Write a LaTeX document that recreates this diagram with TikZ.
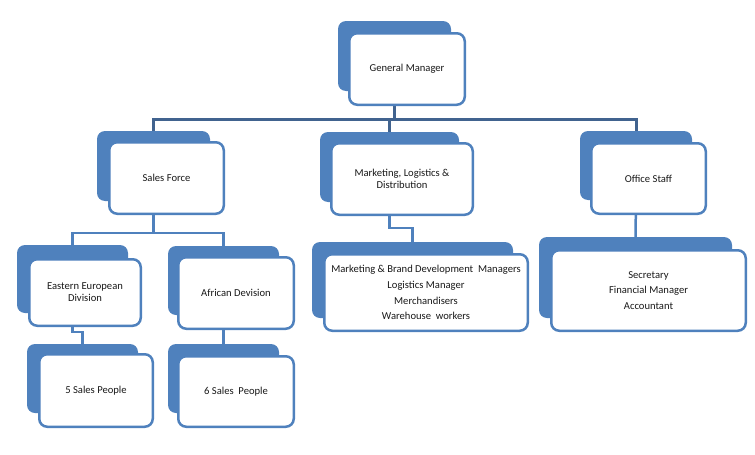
\documentclass[tikz,border=0pt]{standalone}
\usepackage{fontspec}
\setmainfont{Carlito}
\usepackage{tikz}
\usetikzlibrary{backgrounds}
\definecolor{orgblue}{HTML}{4F81BD}
\definecolor{orgdark}{HTML}{41638F}
\tikzset{
 org back/.style={rectangle,rounded corners=8pt,fill=orgblue,inner sep=0pt},
 org front/.style={rectangle,rounded corners=8pt,draw=orgblue,line width=2.5pt,
                   fill=white,inner sep=2pt,align=center,text=black!90,
                   font=\fontsize{10.6}{12}\selectfont},
 org list/.style={font=\fontsize{10.6}{15.8}\selectfont},
 org bar/.style={draw=orgdark,line width=3pt},
 org link/.style={draw=orgblue,line width=2.5pt}
}
\begin{document}
\begin{tikzpicture}[x=1pt,y=-1pt]
 \useasboundingbox (0,0) rectangle (755,455);
 \coordinate (bar) at (394,119);

 \node[org back,minimum width=113,minimum height=70] (gmback) at (394.5,56) {};
 \node[org front,minimum width=115.5,minimum height=71.5] (gm) at (407,69) {General Manager};

 \node[org back,minimum width=113,minimum height=70] (salesback) at (153.5,166) {};
 \node[org front,minimum width=114.5,minimum height=71.5] (sales) at (166.5,178) {Sales Force};
 \node[org back,minimum width=139,minimum height=70] (mktback) at (389.5,167) {};
 \node[org front,minimum width=141.5,minimum height=71.5] (mkt) at (402,179) {Marketing, Logistics \&\\Distribution};
 \node[org back,minimum width=112,minimum height=69] (officeback) at (636,165.5) {};
 \node[org front,minimum width=114.5,minimum height=70.5] (office) at (648.5,178.5) {Office Staff};

 \node[org back,minimum width=111,minimum height=68] (easternback) at (72.5,279) {};
 \node[org front,minimum width=111.5,minimum height=66.5] (eastern) at (85,292.5) {Eastern European\\Division};
 \node[org back,minimum width=111,minimum height=69] (africanback) at (223.5,280.5) {};
 \node[org front,minimum width=115.5,minimum height=71.5] (african) at (236,293) {African Devision};
 \node[org back,minimum width=201,minimum height=76] (mktstaffback) at (412.5,280) {};
 \node[org front,org list,minimum width=203.5,minimum height=76.5] (mktstaff) at (426,292.5)
   {Marketing \& Brand Development~ Managers\\Logistics Manager\\Merchandisers\\Warehouse~ workers};
 \node[org back,minimum width=193,minimum height=81] (offstaffback) at (635.5,277.5) {};
 \node[org front,org list,minimum width=194.5,minimum height=80.5] (offstaff) at (648.5,290.5)
   {Secretary\\Financial Manager\\Accountant};

 \node[org back,minimum width=111,minimum height=69] (fiveback) at (82.5,378.5) {};
 \node[org front,minimum width=113.5,minimum height=72.5] (five) at (96,390.5) {5 Sales People};
 \node[org back,minimum width=111,minimum height=69] (sixback) at (223.5,378.5) {};
 \node[org front,minimum width=115.5,minimum height=70.5] (six) at (236,391.5) {6 Sales~ People};

 \begin{scope}[on background layer]
  \draw[org bar] (gmback.south) -- (gmback.south |- bar);
  \draw[org bar] (salesback.north) |- (bar) -| (officeback.north);
  \draw[org bar] (mktback.north) -- (mktback.north |- bar);
  \draw[org link] (salesback.south) -- ++(0,32) coordinate (split)
    -| (easternback.north);
  \draw[org link] (split) -| (africanback.north);
  \draw[org link] (easternback.south) -- ++(0,19) -| (fiveback.north);
  \draw[org link] (africanback.south) -- (sixback.north);
  \draw[org link] (mktback.south) -- ++(0,26) -| (mktstaffback.north);
  \draw[org link] (officeback.south) -- (offstaffback.north);
 \end{scope}
\end{tikzpicture}
\end{document}
